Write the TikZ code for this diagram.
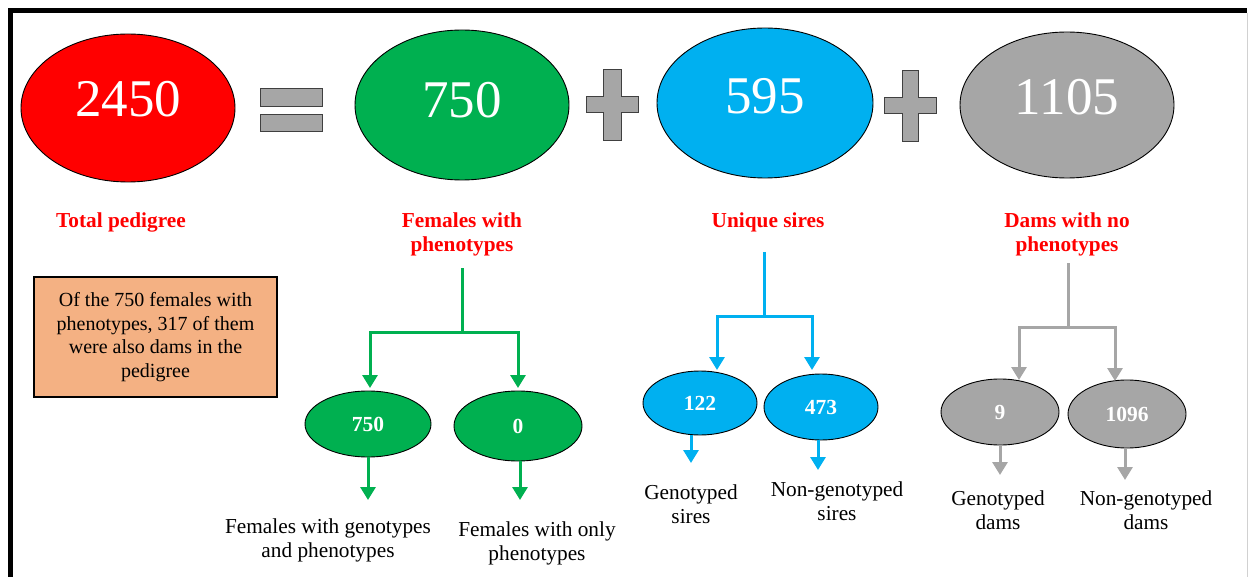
\documentclass[tikz,border=0pt]{standalone}
\usepackage{fontspec}
\setmainfont{Liberation Serif}
\usetikzlibrary{shapes.geometric,arrows.meta,calc}
\definecolor{cred}{HTML}{FF0000}
\definecolor{cgreen}{HTML}{00B050}
\definecolor{cblue}{HTML}{00B0F0}
\definecolor{cgray}{HTML}{A6A6A6}
\definecolor{corange}{HTML}{F4B183}
\definecolor{cedge}{HTML}{404040}
\tikzset{
  bigell/.style={ellipse, draw=black, line width=0.9pt, inner sep=0pt},
  bignum/.style={text=white, font=\fontsize{53}{53}\selectfont},
  smallell/.style={ellipse, draw=black, line width=0.9pt, inner sep=0pt, text=white, font=\fontsize{21.5}{21.5}\selectfont\bfseries},
  redlab/.style={text=cred, align=center, font=\fontsize{21.3}{24}\selectfont\bfseries},
  blacklab/.style={text=black, align=center, font=\fontsize{21.3}{24}\selectfont},
  opsym/.style={fill=cgray, draw=cedge, line width=1pt},
  treeline/.style={line width=3pt, line join=miter},
  treearrow/.style={line width=3pt, line join=miter, -{Triangle[width=15pt,length=13pt]}},
}
\begin{document}
\begin{tikzpicture}[x=1pt,y=-1pt]
\useasboundingbox (0,0) rectangle (1249,577);
% frame
\draw[line width=5pt, black] (10.5,577) -- (10.5,10.5) -- (1247,10.5);
\draw[line width=1pt, black!18] (1247.5,13) -- (1247.5,577);

% big ellipses
\node[bigell, fill=cred, minimum width=214pt, minimum height=148pt,
  label={[bignum, yshift=9pt]center:2450}] (tot) at (128,108) {};
\node[bigell, fill=cgreen, minimum width=214pt, minimum height=150pt,
  label={[bignum, yshift=5pt]center:750}] (fem) at (462,105) {};
\node[bigell, fill=cblue, minimum width=216pt, minimum height=150pt,
  label={[bignum, yshift=7pt]center:595}] (sir) at (765,103) {};
\node[bigell, fill=cgray, minimum width=214pt, minimum height=146pt,
  label={[bignum, yshift=8pt]center:1105}] (dam) at (1067,105) {};

% operators
\draw[opsym] (260,89) rectangle (322,107);
\draw[opsym] (260,115) rectangle (322,132);
\draw[opsym] (603,70) -- (621,70) -- (621,97) -- (638,97) -- (638,113) -- (621,113)
  -- (621,141) -- (603,141) -- (603,113) -- (586,113) -- (586,97) -- (603,97) -- cycle;
\draw[opsym] (902,71) -- (918,71) -- (918,98) -- (936,98) -- (936,114) -- (918,114)
  -- (918,142) -- (902,142) -- (902,114) -- (884,114) -- (884,98) -- (902,98) -- cycle;

% red labels
\node[redlab] (lab1) at (121,222) {Total pedigree};
\node[redlab] (lab2) at (462,234) {Females with\\phenotypes};
\node[redlab] (lab3) at (768,222) {Unique sires};
\node[redlab] (lab4) at (1067,234) {Dams with no\\phenotypes};

% note box
\node[draw=black, line width=2pt, fill=corange, minimum width=243pt, minimum height=120pt,
  align=center, font=\fontsize{20}{23.5}\selectfont] (note) at (155.5,337)
  {Of the 750 females with\\phenotypes, 317 of them\\were also dams in the\\pedigree};

% small ellipses
\node[smallell, fill=cgreen, minimum width=126pt, minimum height=66pt] (g1) at (368,424) {750};
\node[smallell, fill=cgreen, minimum width=128pt, minimum height=70pt] (g2) at (518,426) {0};
\node[smallell, fill=cblue, minimum width=114pt, minimum height=64pt] (b1) at (700,403) {122};
\node[smallell, fill=cblue, minimum width=114pt, minimum height=66pt] (b2) at (821,407) {473};
\node[smallell, fill=cgray, minimum width=118pt, minimum height=66pt] (d1) at (1000,412) {9};
\node[smallell, fill=cgray, minimum width=118pt, minimum height=68pt] (d2) at (1127,414) {1096};

% black labels
\node[blacklab] (lg1) at (328,540) {Females with genotypes\\and phenotypes};
\node[blacklab] (lg2) at (537,543) {Females with only\\phenotypes};
\node[blacklab] (lb1) at (691,504) {Genotyped\\sires};
\node[blacklab] (lb2) at (837,501) {Non-genotyped\\sires};
\node[blacklab] (ld1) at (998,510) {Genotyped\\dams};
\node[blacklab] (ld2) at (1146,510) {Non-genotyped\\dams};

% green tree
\coordinate (gtop) at (462,268);
\coordinate (gj) at (462,332);
\coordinate (g1in) at (370,388);
\coordinate (g2in) at (518,388);
\coordinate (g1out) at (368,500);
\coordinate (g2out) at (520,500);
\draw[treeline, cgreen] (gtop) -- (gj);
\draw[treearrow, cgreen] (gj) -| (g1in);
\draw[treearrow, cgreen] (gj) -| (g2in);
\draw[treearrow, cgreen] (g1out |- g1.south) -- (g1out);
\draw[treearrow, cgreen] (g2out |- g2.south) -- (g2out);

% blue tree
\coordinate (btop) at (764,252);
\coordinate (bj) at (764,316);
\coordinate (b1in) at (717,370);
\coordinate (b2in) at (812,370);
\coordinate (b1out) at (691,463);
\coordinate (b2out) at (818,470);
\draw[treeline, cblue] (btop) -- (bj);
\draw[treearrow, cblue] (bj) -| (b1in);
\draw[treearrow, cblue] (bj) -| (b2in);
\draw[treearrow, cblue] (b1out |- b1.south) -- (b1out);
\draw[treearrow, cblue] (b2out |- b2.south) -- (b2out);

% gray tree
\coordinate (dtop) at (1068,263);
\coordinate (dj) at (1068,327);
\coordinate (d1in) at (1019,380);
\coordinate (d2in) at (1115,381);
\coordinate (d1out) at (1000,475);
\coordinate (d2out) at (1125,480);
\draw[treeline, cgray] (dtop) -- (dj);
\draw[treearrow, cgray] (dj) -| (d1in);
\draw[treearrow, cgray] (dj) -| (d2in);
\draw[treearrow, cgray] (d1out |- d1.south) -- (d1out);
\draw[treearrow, cgray] (d2out |- d2.south) -- (d2out);
\end{tikzpicture}
\end{document}
